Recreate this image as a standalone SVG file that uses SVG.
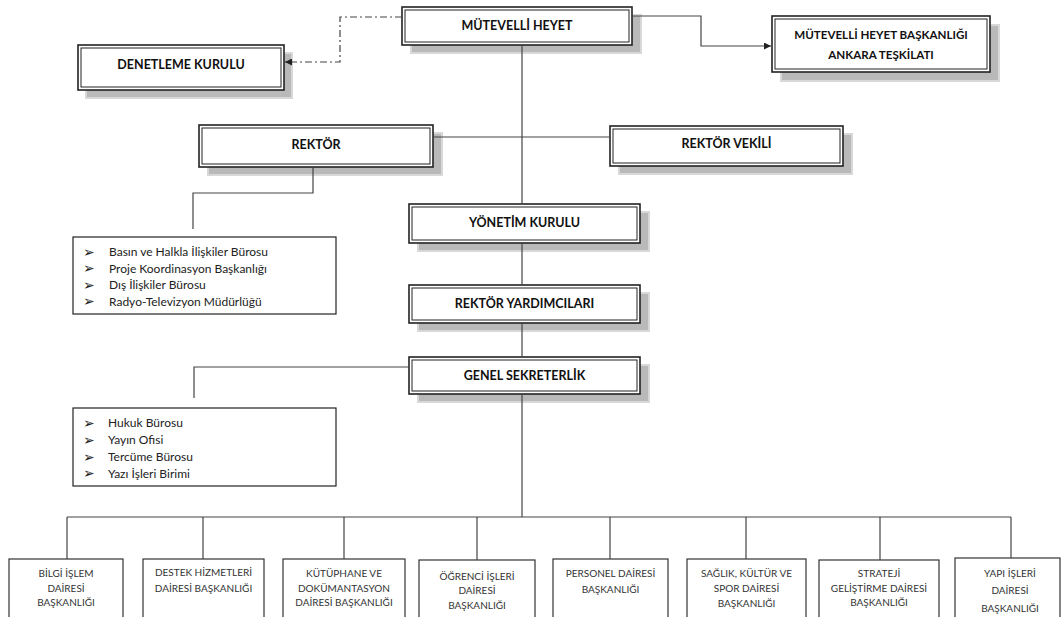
<svg xmlns="http://www.w3.org/2000/svg" width="1062" height="617" viewBox="0 0 1062 617">
<defs>
<marker id="arr" viewBox="0 0 10 10" refX="10" refY="5" markerWidth="8" markerHeight="7" orient="auto" markerUnits="userSpaceOnUse"><path d="M0,0 L10,5 L0,10 z" fill="#222"/></marker>
<style>
.sh{fill:#b9b9b9;stroke:#d8d8d8;stroke-width:2}
.ob{fill:#fff;stroke:#222;stroke-width:1.6}
.ib{fill:none;stroke:#222;stroke-width:1}
.t{font-family:Lato,"Open Sans",sans-serif;font-weight:bold;font-size:12.5px;fill:#111;text-anchor:middle}
.ts{font-size:11.6px}
.lb{fill:#fff;stroke:#222;stroke-width:1.2}
.li{font-family:Lato,"Open Sans",sans-serif;font-size:12px;fill:#222}
.bu{font-family:"DejaVu Sans",sans-serif;font-size:14px;fill:#222}
.bx{fill:#fff;stroke:#333;stroke-width:1.2}
.bt{font-family:Lato,"Open Sans",sans-serif;font-size:10px;fill:#333;text-anchor:middle}
.c{fill:none;stroke:#444;stroke-width:1.2}
.d{stroke-dasharray:7 3 2 3}
</style>
</defs>
<rect width="1062" height="617" fill="#fff"/>

<g id="mutevelli-heyet">
<rect class="sh" x="411" y="15" width="230" height="38"/>
<rect class="ob" x="402" y="7" width="230" height="38"/>
<rect class="ib" x="405" y="10" width="224" height="32"/>
<text class="t" x="517" y="29.5">MÜTEVELLİ HEYET</text>
</g>

<g id="denetleme-kurulu">
<rect class="sh" x="86" y="53" width="206" height="45"/>
<rect class="ob" x="78" y="45" width="206" height="45"/>
<rect class="ib" x="81" y="48" width="200" height="39"/>
<text class="t" x="181" y="68.5">DENETLEME KURULU</text>
</g>

<g id="mhb-ankara">
<rect class="sh" x="781" y="25" width="218" height="56"/>
<rect class="ob" x="772" y="16" width="218" height="56"/>
<rect class="ib" x="775" y="19" width="212" height="50"/>
<text class="t ts" x="881" y="39">MÜTEVELLİ HEYET BAŞKANLIĞI</text>
<text class="t ts" x="881" y="58.5">ANKARA TEŞKİLATI</text>
</g>

<g id="rektor">
<rect class="sh" x="208" y="133" width="234" height="42"/>
<rect class="ob" x="199" y="125" width="234" height="42"/>
<rect class="ib" x="202" y="128" width="228" height="36"/>
<text class="t" x="316" y="149">REKTÖR</text>
</g>

<g id="rektor-vekili">
<rect class="sh" x="619" y="134" width="233" height="40"/>
<rect class="ob" x="610" y="126" width="233" height="40"/>
<rect class="ib" x="613" y="129" width="227" height="34"/>
<text class="t" x="726.5" y="148">REKTÖR VEKİLİ</text>
</g>

<g id="yonetim-kurulu">
<rect class="sh" x="418" y="212" width="231" height="39"/>
<rect class="ob" x="409" y="204" width="231" height="39"/>
<rect class="ib" x="412" y="207" width="225" height="33"/>
<text class="t" x="524.5" y="226.5">YÖNETİM KURULU</text>
</g>

<g id="rektor-yardimcilari">
<rect class="sh" x="418" y="293" width="231" height="38"/>
<rect class="ob" x="409" y="285" width="231" height="38"/>
<rect class="ib" x="412" y="288" width="225" height="32"/>
<text class="t" x="524.5" y="307.5">REKTÖR YARDIMCILARI</text>
</g>

<g id="genel-sekreterlik">
<rect class="sh" x="418" y="365" width="231" height="37"/>
<rect class="ob" x="409" y="357" width="231" height="37"/>
<rect class="ib" x="412" y="360" width="225" height="31"/>
<text class="t" x="524.5" y="379.5">GENEL SEKRETERLİK</text>
</g>

<g id="rektor-birimleri">
<rect class="lb" x="73" y="237" width="263" height="77"/>
<text class="bu" x="83" y="256.5">➢</text>
<text class="bu" x="83" y="273">➢</text>
<text class="bu" x="83" y="289.5">➢</text>
<text class="bu" x="83" y="306">➢</text>
<text class="li" x="109" y="256">Basın ve Halkla İlişkiler Bürosu</text>
<text class="li" x="109" y="272.5">Proje Koordinasyon Başkanlığı</text>
<text class="li" x="109" y="289">Dış İlişkiler Bürosu</text>
<text class="li" x="109" y="305.5">Radyo-Televizyon Müdürlüğü</text>
</g>

<g id="genel-sekreterlik-birimleri">
<rect class="lb" x="73" y="408" width="263" height="78"/>
<text class="bu" x="83" y="427.5">➢</text>
<text class="bu" x="83" y="444.5">➢</text>
<text class="bu" x="83" y="461.5">➢</text>
<text class="bu" x="83" y="478">➢</text>
<text class="li" x="108" y="427">Hukuk Bürosu</text>
<text class="li" x="108" y="444">Yayın Ofisi</text>
<text class="li" x="108" y="461">Tercüme Bürosu</text>
<text class="li" x="108" y="477.5">Yazı İşleri Birimi</text>
</g>

<g id="bilgi-islem">
<rect class="bx" x="9" y="559" width="114" height="64"/>
<text class="bt" x="66" y="576.5">BİLGİ İŞLEM</text>
<text class="bt" x="66" y="591.5">DAİRESİ</text>
<text class="bt" x="66" y="605.5">BAŞKANLIĞI</text>
</g>
<g id="destek-hizmetleri">
<rect class="bx" x="143" y="559" width="121" height="64"/>
<text class="bt" x="203.5" y="575.5">DESTEK HİZMETLERİ</text>
<text class="bt" x="203.5" y="591.5">DAİRESİ BAŞKANLIĞI</text>
</g>
<g id="kutuphane">
<rect class="bx" x="283" y="559" width="122" height="64"/>
<text class="bt" x="344" y="576.5">KÜTÜPHANE VE</text>
<text class="bt" x="344" y="591.5">DOKÜMANTASYON</text>
<text class="bt" x="344" y="605.5">DAİRESİ BAŞKANLIĞI</text>
</g>
<g id="ogrenci-isleri">
<rect class="bx" x="419" y="560" width="116" height="64"/>
<text class="bt" x="477" y="579.5">ÖĞRENCİ İŞLERİ</text>
<text class="bt" x="477" y="593.5">DAİRESİ</text>
<text class="bt" x="477" y="608.5">BAŞKANLIĞI</text>
</g>
<g id="personel">
<rect class="bx" x="553" y="559" width="115" height="64"/>
<text class="bt" x="610.5" y="576.5">PERSONEL DAİRESİ</text>
<text class="bt" x="610.5" y="592.5">BAŞKANLIĞI</text>
</g>
<g id="saglik-kultur-spor">
<rect class="bx" x="687" y="559" width="119" height="64"/>
<text class="bt" x="746.5" y="576.5">SAĞLIK, KÜLTÜR VE</text>
<text class="bt" x="746.5" y="591.5">SPOR DAİRESİ</text>
<text class="bt" x="746.5" y="606.5">BAŞKANLIĞI</text>
</g>
<g id="strateji">
<rect class="bx" x="819" y="560" width="120" height="64"/>
<text class="bt" x="879" y="576.5">STRATEJİ</text>
<text class="bt" x="879" y="591.5">GELİŞTİRME DAİRESİ</text>
<text class="bt" x="879" y="605.5">BAŞKANLIĞI</text>
</g>
<g id="yapi-isleri">
<rect class="bx" x="955" y="558" width="105" height="66"/>
<text class="bt" x="1010" y="576.5">YAPI İŞLERİ</text>
<text class="bt" x="1010" y="594">DAİRESİ</text>
<text class="bt" x="1010" y="611.5">BAŞKANLIĞI</text>
</g>

<g id="connectors">
<path class="c" d="M522,45 V204"/>
<path class="c" d="M433,137 H610"/>
<path class="c" d="M522,243 V285"/>
<path class="c" d="M522,323 V357"/>
<path class="c" d="M522,394 V517"/>
<path class="c" d="M67,517 H1011"/>
<path class="c" d="M67,517 V559 M203,517 V559 M344,517 V559 M477,517 V560 M610,517 V559 M746,517 V559 M880,517 V560 M1011,517 V558"/>
<path class="c" d="M313,167 V193 H193 V229"/>
<path class="c" d="M409,367 H194 V398"/>
<path class="c" d="M632,16 H701 V46 H771" marker-end="url(#arr)"/>
<path class="c d" d="M402,17 H340 V62 H285" marker-end="url(#arr)"/>
</g>
</svg>
